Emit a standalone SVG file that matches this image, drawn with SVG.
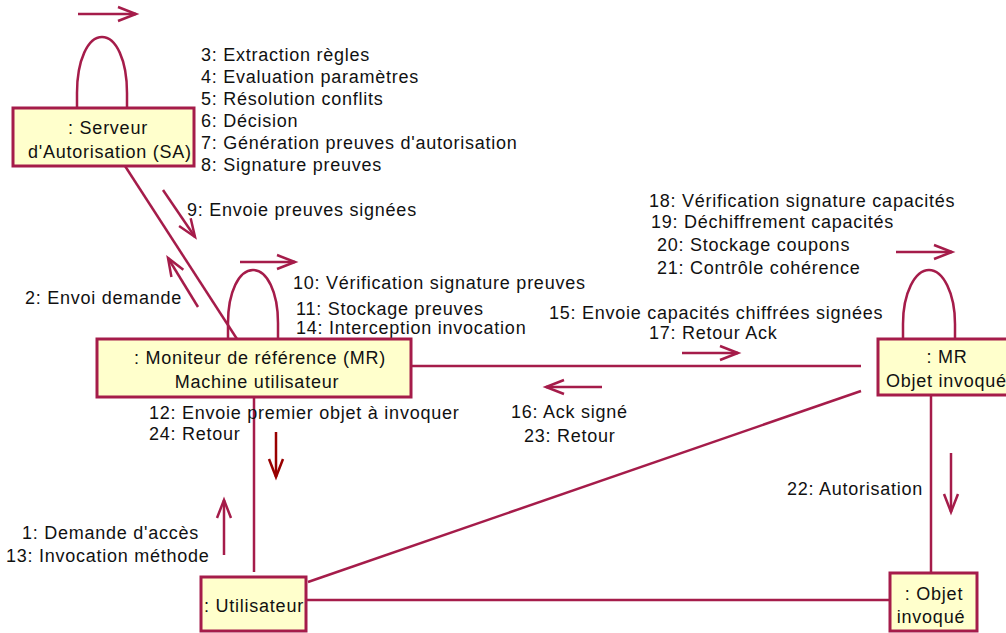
<svg xmlns="http://www.w3.org/2000/svg" width="1006" height="633" viewBox="0 0 1006 633">
<defs>
<style>
.node{fill:#ffffcc;stroke:#a51c4a;stroke-width:3}
.c{fill:none;stroke:#a51c4a;stroke-width:2.5}
.a{fill:none;stroke:#a51c4a;stroke-width:2.5;marker-end:url(#h)}
.ad{fill:none;stroke:#990000;stroke-width:2.5;marker-end:url(#hd)}
text{font-family:"Liberation Sans",Arial,sans-serif;font-size:18px;fill:#111;letter-spacing:0.75px}
.m{text-anchor:middle}
</style>
<marker id="h" markerUnits="userSpaceOnUse" markerWidth="22" markerHeight="18" refX="19" refY="8" orient="auto" overflow="visible">
<path d="M1,1 L19,8 L1,15" fill="none" stroke="#a51c4a" stroke-width="2.5"/>
</marker>
<marker id="hd" markerUnits="userSpaceOnUse" markerWidth="22" markerHeight="18" refX="19" refY="8" orient="auto" overflow="visible">
<path d="M1,1 L19,8 L1,15" fill="none" stroke="#990000" stroke-width="2.5"/>
</marker>
</defs>
<rect width="1006" height="633" fill="#ffffff"/>
<g id="connectors">
<line class="c" x1="125" y1="166" x2="237" y2="339"/>
<line class="c" x1="411" y1="366" x2="861" y2="366"/>
<line class="c" x1="254" y1="397" x2="254" y2="572"/>
<line class="c" x1="861" y1="391" x2="308" y2="582"/>
<line class="c" x1="931" y1="395" x2="931" y2="572"/>
<line class="c" x1="306" y1="600" x2="889" y2="600"/>
<path class="c" d="M77,108 V93 C77,60 88,37 102,37 C116,37 127,60 127,93 V108"/>
<path class="c" d="M228,339 V323 C228,292 239,270 253,270 C267,270 278,292 278,323 V339"/>
<path class="c" d="M903,339 V324 C903,293 915,270 929,270 C943,270 955,293 955,324 V339"/>
<line class="a" x1="78" y1="14" x2="136" y2="14"/>
<line class="a" x1="240" y1="262" x2="295" y2="262"/>
<line class="a" x1="896" y1="252" x2="952" y2="252"/>
<line class="a" x1="163" y1="190" x2="195" y2="237"/>
<line class="a" x1="198" y1="307" x2="168" y2="258"/>
<line class="a" x1="682" y1="353" x2="738" y2="353"/>
<line class="a" x1="602" y1="387" x2="546" y2="387"/>
<line class="a" x1="951" y1="453" x2="951" y2="512"/>
<line class="ad" x1="276" y1="432" x2="276" y2="477"/>
<line class="a" x1="224" y1="555" x2="224" y2="500"/>
</g>
<g id="labels">
<text x="201" y="61">3: Extraction règles</text>
<text x="201" y="83">4: Evaluation paramètres</text>
<text x="201" y="105">5: Résolution conflits</text>
<text x="201" y="127">6: Décision</text>
<text x="201" y="149">7: Génération preuves d'autorisation</text>
<text x="201" y="171">8: Signature preuves</text>
<text x="187" y="216">9: Envoie preuves signées</text>
<text x="25" y="304">2: Envoi demande</text>
<text x="293" y="289">10: Vérification signature preuves</text>
<text x="296" y="315">11: Stockage preuves</text>
<text x="296" y="334">14: Interception invocation</text>
<text x="649" y="207">18: Vérification signature capacités</text>
<text x="651" y="228">19: Déchiffrement capacités</text>
<text x="657" y="251">20: Stockage coupons</text>
<text x="657" y="274">21: Contrôle cohérence</text>
<text x="549" y="319">15: Envoie capacités chiffrées signées</text>
<text x="649" y="339">17: Retour Ack</text>
<text x="149" y="419">12: Envoie premier objet à invoquer</text>
<text x="149" y="440">24: Retour</text>
<text x="511" y="418">16: Ack signé</text>
<text x="524" y="442">23: Retour</text>
<text x="22" y="539">1: Demande d'accès</text>
<text x="6" y="562">13: Invocation méthode</text>
<text x="787" y="495">22: Autorisation</text>
</g>
<g id="sa">
<rect class="node" x="13" y="108" width="181" height="58"/>
<text class="m" x="108" y="134">: Serveur</text>
<text class="m" x="110" y="158">d'Autorisation (SA)</text>
</g>
<g id="mr">
<rect class="node" x="97" y="339" width="314" height="58"/>
<text class="m" x="260" y="364">: Moniteur de référence (MR)</text>
<text class="m" x="257" y="388">Machine utilisateur</text>
</g>
<g id="mr-objet">
<rect class="node" x="878" y="339" width="140" height="56"/>
<text class="m" x="947" y="363">: MR</text>
<text x="886" y="387">Objet invoqué</text>
</g>
<g id="utilisateur">
<rect class="node" x="201" y="577" width="105" height="54"/>
<text class="m" x="254" y="612">: Utilisateur</text>
</g>
<g id="objet">
<rect class="node" x="890" y="573" width="87" height="58"/>
<text class="m" x="934" y="600">: Objet</text>
<text class="m" x="931" y="623">invoqué</text>
</g>
</svg>
